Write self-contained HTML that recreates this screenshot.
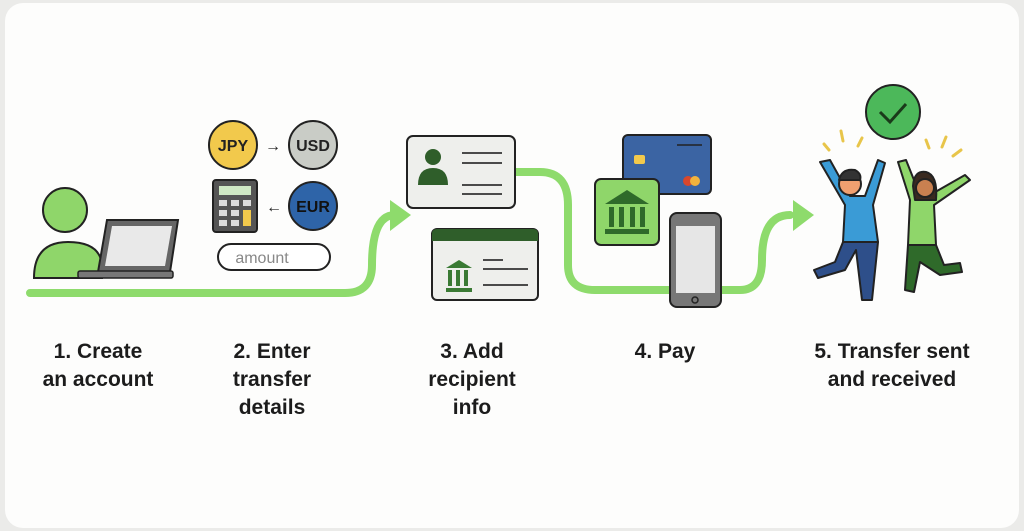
<!DOCTYPE html>
<html><head><meta charset="utf-8"><style>
html,body{margin:0;padding:0;background:#ebebe9;}
.wrap{position:absolute;left:5px;top:3px;width:1014px;height:525px;background:#fdfdfc;border-radius:18px;}
svg{position:absolute;left:0;top:0}
text{font-family:"Liberation Sans",sans-serif;}
.lb{font-size:21px;font-weight:bold;fill:#1c1c1c;text-anchor:middle}
</style></head><body>
<div class="wrap"></div>
<svg width="1024" height="531" viewBox="0 0 1024 531">
<g fill="none" stroke="#8edb6c" stroke-width="8" stroke-linecap="round">
<path d="M30 293 H345 Q372 293 372 265 Q372 215 395 215"/>
<path d="M515 172 H540 Q568 172 568 205 V265 Q568 290 595 290 H670"/>
<path d="M722 290 H740 Q762 290 762 260 Q762 215 790 215"/>
</g>
<polygon points="390,200 411,215 390,231" fill="#8edb6c"/>
<polygon points="793,200 814,215 793,231" fill="#8edb6c"/>
<!-- person 1 -->
<circle cx="65" cy="210" r="22" fill="#8fd66a" stroke="#222" stroke-width="2"/>
<path d="M34 278 Q34 242 68 242 Q100 242 102 265 L102 278 Z" fill="#8fd66a" stroke="#222" stroke-width="2"/>
<polygon points="107,220 178,220 170,272 98,272" fill="#666" stroke="#222" stroke-width="2"/>
<polygon points="112,226 172,226 165,266 105,266" fill="#e9e9e9"/>
<rect x="78" y="271" width="95" height="7" rx="2" fill="#777" stroke="#222" stroke-width="1.5"/>
<!-- currencies -->
<circle cx="233" cy="145" r="24" fill="#f2c94c" stroke="#222" stroke-width="2"/>
<text x="233" y="151" font-size="16" font-weight="bold" text-anchor="middle" fill="#222">JPY</text>
<text x="273" y="151" font-size="16" text-anchor="middle" fill="#222">→</text>
<circle cx="313" cy="145" r="24" fill="#c9ccc6" stroke="#222" stroke-width="2"/>
<text x="313" y="151" font-size="16" font-weight="bold" text-anchor="middle" fill="#222">USD</text>
<rect x="213" y="180" width="44" height="52" rx="3" fill="#555" stroke="#222" stroke-width="2"/>
<rect x="219" y="186" width="32" height="9" fill="#cfe8c4"/>
<g fill="#ddd"><rect x="219" y="200" width="8" height="6"/><rect x="231" y="200" width="8" height="6"/><rect x="219" y="210" width="8" height="6"/><rect x="231" y="210" width="8" height="6"/><rect x="219" y="220" width="8" height="6"/><rect x="231" y="220" width="8" height="6"/><rect x="243" y="200" width="8" height="6"/></g>
<rect x="243" y="210" width="8" height="16" fill="#f2c94c"/>
<text x="274" y="212" font-size="16" text-anchor="middle" fill="#222">←</text>
<circle cx="313" cy="206" r="24" fill="#2e64a8" stroke="#222" stroke-width="2"/>
<text x="313" y="212" font-size="16" font-weight="bold" text-anchor="middle" fill="#111">EUR</text>
<rect x="218" y="244" width="112" height="26" rx="13" fill="#fff" stroke="#222" stroke-width="2"/>
<text x="262" y="263" font-size="16" text-anchor="middle" fill="#888">amount</text>
<!-- card 1 -->
<rect x="407" y="136" width="108" height="72" rx="6" fill="#eeefec" stroke="#222" stroke-width="2"/>
<circle cx="433" cy="157" r="8" fill="#2f5e2a"/>
<path d="M418 185 Q418 168 433 168 Q448 168 448 185 Z" fill="#2f5e2a"/>
<g stroke="#333" stroke-width="1.8"><line x1="462" y1="153" x2="502" y2="153"/><line x1="462" y1="163" x2="502" y2="163"/><line x1="462" y1="185" x2="502" y2="185"/><line x1="462" y1="194" x2="502" y2="194"/></g>
<!-- card 2 -->
<rect x="432" y="229" width="106" height="71" rx="5" fill="#eeefec" stroke="#222" stroke-width="2"/>
<path d="M432 241 V234 Q432 229 437 229 H533 Q538 229 538 234 V241 Z" fill="#2f5e2a"/>
<g fill="#3a7a34"><polygon points="446,268 459,260 472,268"/><rect x="446" y="288" width="26" height="4"/><rect x="448" y="270" width="4" height="16"/><rect x="456" y="270" width="4" height="16"/><rect x="464" y="270" width="4" height="16"/></g>
<g stroke="#333" stroke-width="1.8"><line x1="483" y1="260" x2="503" y2="260"/><line x1="483" y1="269" x2="528" y2="269"/><line x1="483" y1="285" x2="528" y2="285"/></g>
<!-- credit card -->
<rect x="623" y="135" width="88" height="59" rx="5" fill="#3b64a3" stroke="#222" stroke-width="2"/>
<rect x="634" y="155" width="11" height="9" rx="2" fill="#f2c94c"/>
<line x1="677" y1="145" x2="702" y2="145" stroke="#222" stroke-width="1.5"/>
<circle cx="688" cy="181" r="5" fill="#d9472b"/><circle cx="695" cy="181" r="5" fill="#f2b33d"/>
<!-- bank tile -->
<rect x="595" y="179" width="64" height="66" rx="6" fill="#8fd66a" stroke="#222" stroke-width="2"/>
<g fill="#2f6a2a"><polygon points="605,204 627,190 649,204"/><rect x="605" y="229" width="44" height="5"/><rect x="609" y="207" width="5" height="20"/><rect x="619" y="207" width="5" height="20"/><rect x="630" y="207" width="5" height="20"/><rect x="640" y="207" width="5" height="20"/></g>
<!-- phone -->
<rect x="670" y="213" width="51" height="94" rx="7" fill="#777" stroke="#222" stroke-width="2"/>
<rect x="676" y="226" width="39" height="67" fill="#e6e6e6"/>
<circle cx="695" cy="300" r="3" fill="none" stroke="#222" stroke-width="1.5"/>
<!-- check -->
<circle cx="893" cy="112" r="27" fill="#4cb85a" stroke="#222" stroke-width="2"/>
<polyline points="880,112 890,122 906,104" fill="none" stroke="#1a3a1a" stroke-width="3"/>
<g stroke="#e8c54a" stroke-width="3" stroke-linecap="round"><line x1="824" y1="144" x2="829" y2="150"/><line x1="841" y1="131" x2="843" y2="141"/><line x1="862" y1="138" x2="858" y2="146"/><line x1="926" y1="140" x2="929" y2="148"/><line x1="946" y1="137" x2="942" y2="147"/><line x1="961" y1="150" x2="953" y2="156"/></g>
<!-- man -->
<g stroke="#222" stroke-width="2" stroke-linejoin="round">
<path d="M820 162 L845 205 L843 242 L878 242 L873 205 L885 163 L878 160 L865 196 L850 196 L830 160 Z" fill="#3a9bd6"/>
<path d="M843 242 L835 262 L814 270 L818 278 L845 270 L856 250 L862 300 L872 300 L878 242 Z" fill="#2e4f8a"/>
<circle cx="850" cy="184" r="11" fill="#f0a070"/>
<path d="M839 180 Q842 168 855 170 Q862 174 860 180 Z" fill="#333"/>
</g>
<!-- woman -->
<g stroke="#222" stroke-width="2" stroke-linejoin="round">
<path d="M898 162 L910 200 L908 245 L936 245 L934 205 L970 180 L965 175 L930 195 L920 195 L906 160 Z" fill="#8fd66a"/>
<path d="M908 245 L905 290 L914 292 L920 262 L940 275 L962 272 L960 263 L944 265 L936 245 Z" fill="#2f6a2a"/>
<path d="M913 186 Q914 170 926 172 Q938 175 936 200 L915 200 Z" fill="#3a2a20"/>
<circle cx="925" cy="188" r="9" fill="#c98050"/>
</g>
<!-- labels -->
<text class="lb" x="98" y="358">1. Create</text>
<text class="lb" x="98" y="386">an account</text>
<text class="lb" x="272" y="358">2. Enter</text>
<text class="lb" x="272" y="386">transfer</text>
<text class="lb" x="272" y="414">details</text>
<text class="lb" x="472" y="358">3. Add</text>
<text class="lb" x="472" y="386">recipient</text>
<text class="lb" x="472" y="414">info</text>
<text class="lb" x="665" y="358">4. Pay</text>
<text class="lb" x="892" y="358">5. Transfer sent</text>
<text class="lb" x="892" y="386">and received</text>
</svg>
</body></html>
